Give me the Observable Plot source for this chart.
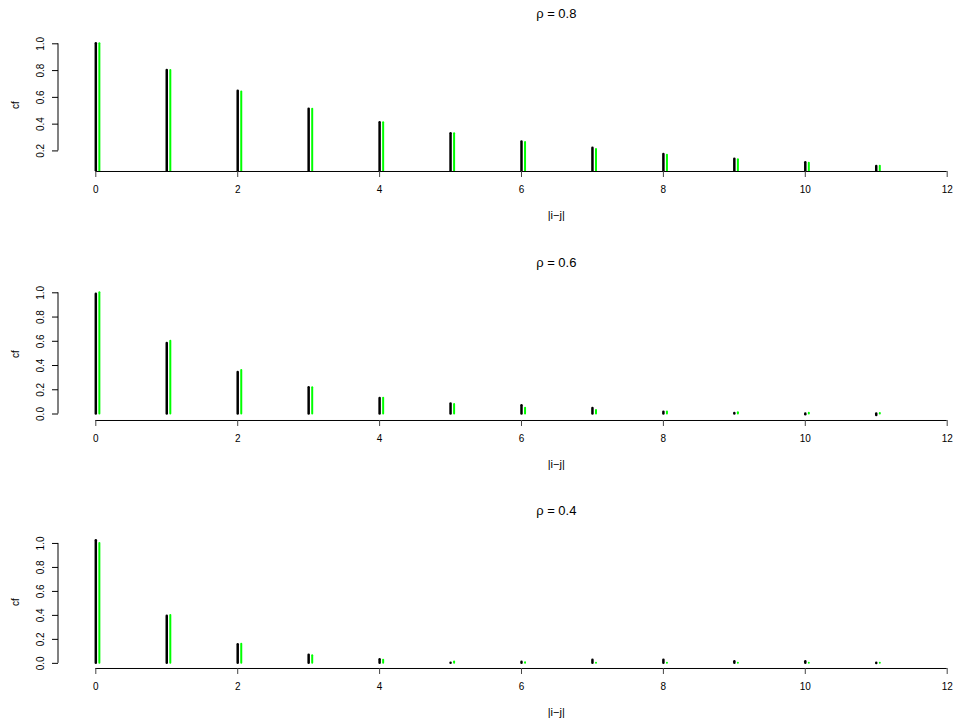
<!DOCTYPE html>
<html><head><meta charset="utf-8">
<script src="https://cdn.jsdelivr.net/npm/d3@7"></script>
<script src="https://cdn.jsdelivr.net/npm/@observablehq/plot@0.6"></script>
<style>
html,body{margin:0;padding:0;background:#fff;overflow:hidden;}
#chart{position:relative;width:954px;height:725px;}
#chart svg{position:absolute;left:0;display:block;overflow:visible;}
</style></head><body><div id="chart"></div>
<script>
// ---- data ----
const lags = [0, 1, 2, 3, 4, 5, 6, 7, 8, 9, 10, 11];
const titles = ["ρ = 0.8", "ρ = 0.6", "ρ = 0.4"];
const xTicks = [0, 2, 4, 6, 8, 10, 12];
const yTickValues = [0.0, 0.2, 0.4, 0.6, 0.8, 1.0];
const xLabel = "|i−j|";
const yLabel = "cf";

// empirical correlation (black) and theoretical rho^|i-j| (green)
const rho08Empirical   = [1.0, 0.80, 0.645, 0.512, 0.41, 0.328, 0.267, 0.22, 0.173, 0.137, 0.112, 0.083];
const rho08Theoretical = [1.0, 0.8, 0.64, 0.512, 0.4096, 0.3277, 0.2621, 0.2097, 0.1678, 0.1342, 0.1074, 0.0859];
const rho06Empirical   = [0.989, 0.581, 0.343, 0.216, 0.127, 0.083, 0.069, 0.045, 0.014, 0.005, -0.006, -0.013];
const rho06Theoretical = [1.0, 0.6, 0.36, 0.216, 0.1296, 0.0778, 0.0467, 0.028, 0.0168, 0.0101, 0.006, 0.0036];
const rho04Empirical   = [1.022, 0.392, 0.155, 0.067, 0.031, 0.0, 0.009, 0.025, 0.025, 0.014, 0.014, -0.002];
const rho04Theoretical = [1.0, 0.4, 0.16, 0.064, 0.0256, 0.0102, 0.0041, 0.0016, 0.0007, 0.0003, 0.0001, 0.00004];

const panels = [
  {title: titles[0], empirical: rho08Empirical, theoretical: rho08Theoretical},
  {title: titles[1], empirical: rho06Empirical, theoretical: rho06Theoretical},
  {title: titles[2], empirical: rho04Empirical, theoretical: rho04Theoretical}
];

// ---- layout ----
const W = 954;
const panelTops = [0, 248.6, 497.2];
const panelHeights = [248.6, 248.6, 227.8];
const MT = 38.4, PLOT_H = 132.6, ML = 58;
const xRange = [95.3, 946.7];
const greenOffset = 0.05;
const titleX = 6.49;
const font = "'Liberation Sans', Arial, Helvetica, sans-serif";

const container = document.getElementById("chart");

panels.forEach((p, i) => {
  const H = panelHeights[i];
  const all = p.empirical.concat(p.theoretical);
  const mn = d3.min(all), mx = d3.max(all), r = mx - mn;
  const yDomain = [mn - 0.04 * r, mx + 0.04 * r];
  const yTicks = yTickValues.filter(v => v >= yDomain[0] - 1e-9 && v <= yDomain[1] + 1e-9);
  const emp = lags.map((k, j) => ({lag: k, v: p.empirical[j]}));
  const theo = lags.map((k, j) => ({lag: k + greenOffset, v: p.theoretical[j]}));

  const plot = Plot.plot({
    width: W, height: H,
    marginTop: MT, marginBottom: H - MT - PLOT_H, marginLeft: ML, marginRight: 0,
    style: {fontFamily: font, fontSize: "10px", background: "white", color: "black", overflow: "visible"},
    x: {domain: [0, 12], range: xRange},
    y: {domain: yDomain},
    marks: [
      Plot.ruleX(emp, {x: "lag", y1: 0, y2: "v", stroke: "black", strokeWidth: 2.5, strokeLinecap: "round", clip: true}),
      Plot.ruleX(theo, {x: "lag", y1: 0, y2: "v", stroke: "#00ff00", strokeWidth: 2, strokeLinecap: "round", clip: true}),
      Plot.ruleY([yDomain[0]], {x1: d3.min(xTicks), x2: d3.max(xTicks), stroke: "black", strokeWidth: 1}),
      Plot.axisX({ticks: xTicks, tickSize: 6, tickPadding: 8, tickFormat: d => String(d), label: null, stroke: "#444"}),
      Plot.axisY({ticks: yTicks, tickSize: 6, tickPadding: 8.5, tickRotate: -90, tickFormat: d3.format(".1f"),
                  label: yLabel, labelAnchor: "center", labelOffset: 47, labelArrow: "none", stroke: "black"}),
      Plot.text([p.title], {x: titleX, frameAnchor: "top", lineAnchor: "middle", dy: -25, fontSize: 13}),
      Plot.text([xLabel], {x: titleX, frameAnchor: "bottom", lineAnchor: "middle", dy: 44, fontSize: 11})
    ]
  });
  plot.style.top = panelTops[i] + "px";

  // y-axis line spanning the tick range (as R draws it)
  const ys = plot.scale("y");
  const yMap = d3.scaleLinear(ys.domain, ys.range);
  d3.select(plot).append("line")
    .attr("x1", ML).attr("x2", ML)
    .attr("y1", yMap(d3.max(yTicks))).attr("y2", yMap(d3.min(yTicks)))
    .attr("stroke", "black").attr("stroke-width", 1);

  container.appendChild(plot);
});
</script>
</body></html>
